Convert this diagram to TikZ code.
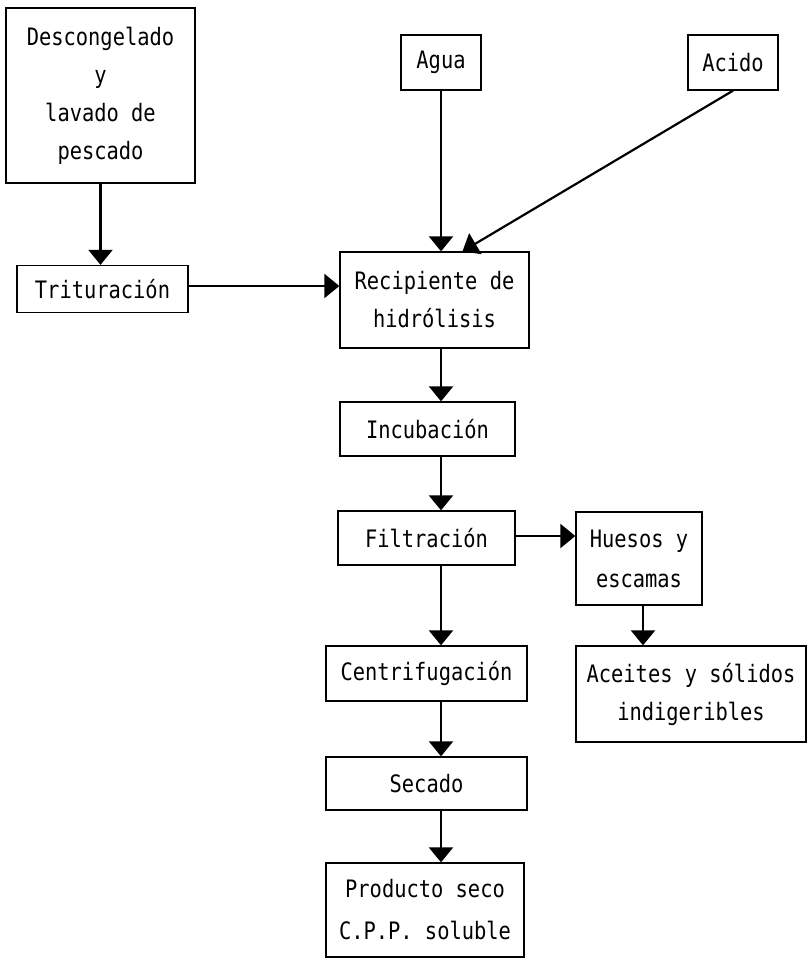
\documentclass[tikz,border=0pt]{standalone}
\usepackage{fontspec}
\newfontfamily\monofam[FakeStretch=0.85]{DejaVu Sans Mono}
\usetikzlibrary{arrows.meta}
\tikzset{
  procbox/.style={draw=black, line width=1.3pt, inner sep=0pt, align=center,
    font=\monofam\fontsize{24}{38}\selectfont},
  flow/.style={draw=black, line width=2.2pt, -{Triangle[width=24pt,length=15pt]}}
}
\begin{document}
\begin{tikzpicture}[x=1pt,y=-1pt]
\useasboundingbox (0,0) rectangle (808,959);
\fill[white] (0,0) rectangle (808,959);
\node[procbox, minimum width=189pt, minimum height=175pt] (desc) at (100.5,95.5) {Descongelado\\y\\lavado de\\pescado};
\node[procbox, minimum width=171pt, minimum height=47pt] (trit) at (102.5,289) {Trituración};
\node[procbox, minimum width=80pt, minimum height=55pt] (agua) at (441,62.5) {Agua};
\node[procbox, minimum width=90pt, minimum height=55pt] (acido) at (733,62.5) {Acido};
\node[procbox, minimum width=189pt, minimum height=96pt] (recip) at (434.5,300) {Recipiente de\\hidrólisis};
\node[procbox, minimum width=175pt, minimum height=54pt] (incub) at (427.5,429) {Incubación};
\node[procbox, minimum width=177pt, minimum height=54pt] (filt) at (426.5,538) {Filtración};
\node[procbox, minimum width=126pt, minimum height=93pt, font=\monofam\fontsize{24}{40}\selectfont] (hues) at (639,558.5) {Huesos y\\escamas};
\node[procbox, minimum width=230pt, minimum height=96pt] (aceit) at (691,694) {Aceites y sólidos\\indigeribles};
\node[procbox, minimum width=201pt, minimum height=55pt] (centr) at (426.5,673.5) {Centrifugación};
\node[procbox, minimum width=201pt, minimum height=53pt] (secado) at (426.5,783.5) {Secado};
\node[procbox, minimum width=198pt, minimum height=94pt, font=\monofam\fontsize{24}{42}\selectfont] (prod) at (425,910) {Producto seco\\C.P.P. soluble};
\coordinate (sp) at (441,0);
\draw[flow] (desc.south) -- (desc.south |- trit.north);
\draw[flow] ([yshift=3pt]trit.east) -- ([yshift=3pt]trit.east -| recip.west);
\draw[flow] (agua.south) -- (agua.south |- recip.north);
\draw[flow] (acido.south) -- ([xshift=28pt]recip.north);
\draw[flow] (recip.south -| sp) -- (incub.north -| sp);
\draw[flow] (incub.south -| sp) -- (filt.north -| sp);
\draw[flow] (filt.south -| sp) -- (centr.north -| sp);
\draw[flow] (centr.south -| sp) -- (secado.north -| sp);
\draw[flow] (secado.south -| sp) -- (prod.north -| sp);
\draw[flow] ([yshift=2pt]filt.east) -- ([yshift=2pt]filt.east -| hues.west);
\draw[flow] ([xshift=4pt]hues.south) -- ([xshift=4pt]hues.south |- aceit.north);
\end{tikzpicture}
\end{document}
